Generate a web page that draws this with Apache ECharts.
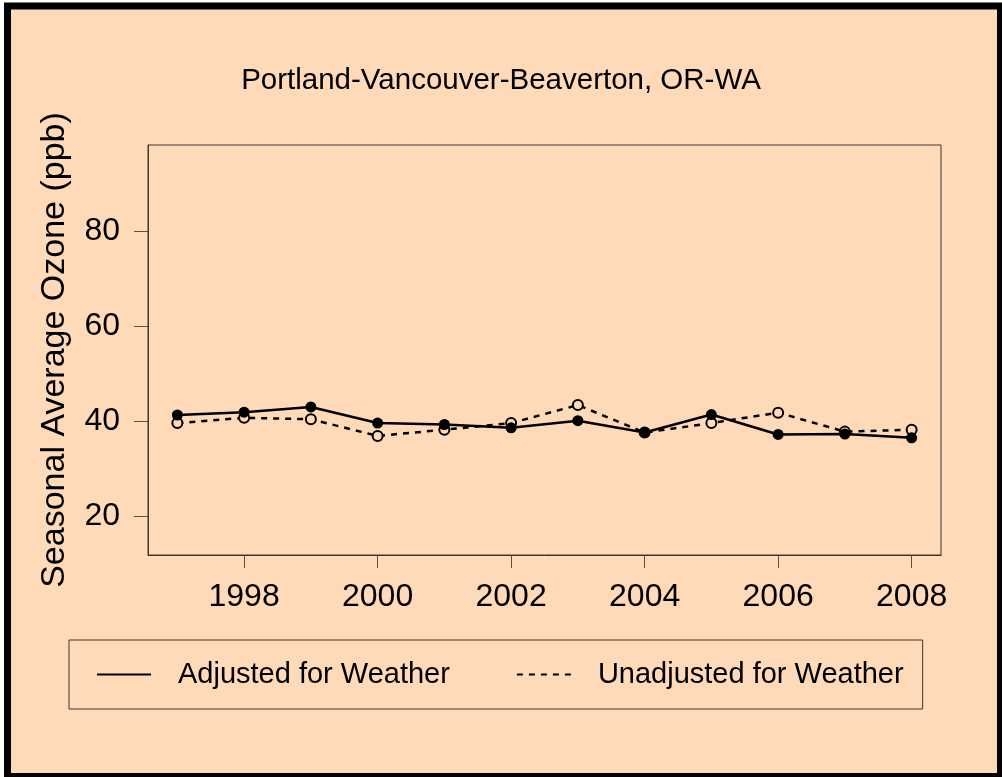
<!DOCTYPE html>
<html>
<head>
<meta charset="utf-8">
<script src="https://cdn.jsdelivr.net/npm/echarts@6/dist/echarts.min.js"></script>
<style>
  body { margin: 0; background: #fff; }
  #main { width: 1002px; height: 777px; }
</style>
</head>
<body>
<div id="main"></div>
<script>
// data
var years = [1997, 1998, 1999, 2000, 2001, 2002, 2003, 2004, 2005, 2006, 2007, 2008];
var adjusted = [41.3, 41.9, 43.0, 39.6, 39.3, 38.6, 40.1, 37.6, 41.4, 37.2, 37.3, 36.5];
var unadjusted = [39.6, 40.7, 40.4, 36.9, 38.2, 39.6, 43.4, 37.6, 39.6, 41.8, 37.8, 38.2];
var xTicks = [1998, 2000, 2002, 2004, 2006, 2008];
var yTicks = [20, 40, 60, 80];

function pairs(xs, ys) {
    return xs.map(function (x, i) { return [x, ys[i]]; });
}

function ozoneChart(id) {
    var myChart = echarts.init(document.getElementById(id));
    var font = "'Liberation Sans', Arial, sans-serif";
    var frame = '#3c3530';

    var option = {
        backgroundColor: '#fff',
        animation: false,
        graphic: [{
            type: 'rect',
            z: -100,
            shape: { x: 7.5, y: 6, width: 993, height: 770.5 },
            style: { fill: '#FFDAB9', stroke: '#000', lineWidth: 7 }
        }],
        title: {
            text: 'Portland-Vancouver-Beaverton, OR-WA',
            left: 'center',
            top: 61,
            textStyle: { fontFamily: font, fontSize: 29.5, fontWeight: 'normal', color: '#000' }
        },
        grid: {
            left: 148, top: 145, right: 61, bottom: 222,
            show: true, borderColor: frame, borderWidth: 1,
            containLabel: false
        },
        legend: {
            left: 69,
            top: 640,
            padding: [20, 19, 20, 27],
            borderColor: frame,
            borderWidth: 1,
            itemWidth: 54,
            itemHeight: 14,
            itemGap: 66,
            itemStyle: { opacity: 0 },
            textStyle: { fontFamily: font, fontSize: 29, color: '#000', padding: [0, 0, 0, 22] },
            data: ['Adjusted for Weather', 'Unadjusted for Weather']
        },
        xAxis: {
            type: 'value',
            min: 1996.56,
            max: 2008.44,
            axisLine: { show: true, lineStyle: { color: frame } },
            axisTick: { show: true, length: 13, customValues: xTicks, lineStyle: { color: '#5a5048' } },
            axisLabel: {
                customValues: xTicks, margin: 26,
                formatter: function (v) { return String(v); },
                fontFamily: font, fontSize: 32, color: '#000'
            },
            splitLine: { show: false }
        },
        yAxis: {
            type: 'value',
            min: 11.8,
            max: 98.2,
            name: 'Seasonal Average Ozone (ppb)',
            nameLocation: 'middle',
            nameGap: 76,
            nameTextStyle: { fontFamily: font, fontSize: 34, color: '#000' },
            axisLine: { show: true, lineStyle: { color: frame } },
            axisTick: { show: true, length: 14, customValues: yTicks, lineStyle: { color: '#5a5048' } },
            axisLabel: {
                customValues: yTicks, margin: 28,
                fontFamily: font, fontSize: 32, color: '#000'
            },
            splitLine: { show: false }
        },
        series: [{
            name: 'Unadjusted for Weather',
            type: 'line',
            data: pairs(years, unadjusted),
            symbol: 'circle',
            symbolSize: 10,
            itemStyle: { color: '#FFDAB9', borderColor: '#000', borderWidth: 2 },
            lineStyle: { color: '#000', width: 2.5, type: [6, 6] },
            z: 2
        }, {
            name: 'Adjusted for Weather',
            type: 'line',
            data: pairs(years, adjusted),
            symbol: 'circle',
            symbolSize: 11,
            itemStyle: { color: '#000' },
            lineStyle: { color: '#000', width: 2.5 },
            z: 3
        }]
    };
    myChart.setOption(option);
}

ozoneChart('main');
</script>
</body>
</html>
